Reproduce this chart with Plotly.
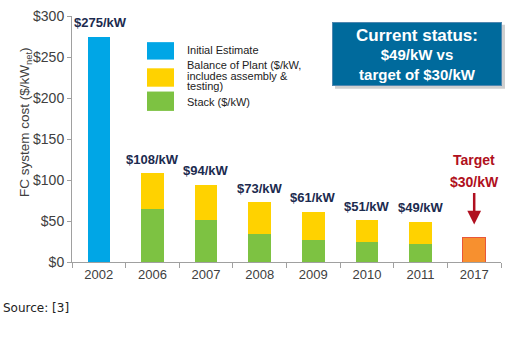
import plotly.graph_objects as go

years = ["2002", "2006", "2007", "2008", "2009", "2010", "2011", "2017"]
initial = [275, None, None, None, None, None, None, None]
stack = [None, 65, 51, 34, 27, 25, 22, None]
bop = [None, 43, 43, 39, 34, 26, 27, None]
target = [None, None, None, None, None, None, None, 30]
totals = [275, 108, 94, 73, 61, 51, 49, 30]
labels = ["$275/kW", "$108/kW", "$94/kW", "$73/kW", "$61/kW", "$51/kW", "$49/kW", ""]
yticks = [0, 50, 100, 150, 200, 250, 300]
yticktext = ["$0", "$50", "$100", "$150", "$200", "$250", "$300"]

C_BLUE, C_GREEN, C_YELLOW, C_ORANGE = "#00A6E6", "#7DC242", "#FFD200", "#F7902F"

# plot-area pixel frame (for layout helpers)
L, R, T, B = 72, 501, 8, 262
def px(p):
    return (p - L) / (R - L)
def py(p):
    return (B - p) / (B - T)

W = 0.42
fig = go.Figure()
fig.add_trace(go.Bar(x=years, y=initial, name="Initial Estimate", marker_color=C_BLUE,
                     marker_line_width=0, width=W))
fig.add_trace(go.Bar(x=years, y=stack, name="Stack ($/kW)", marker_color=C_GREEN,
                     marker_line_width=0, width=W))
fig.add_trace(go.Bar(x=years, y=bop, name="Balance of Plant", marker_color=C_YELLOW,
                     marker_line_width=0, width=W))
fig.add_trace(go.Bar(x=years, y=target, name="Target", marker_color=C_ORANGE,
                     marker_line=dict(color="#E8563A", width=1), width=W))

LF = dict(family="Liberation Sans, Arial", size=13, color="#1C2B4F")
RF = dict(family="Liberation Sans, Arial", size=14, color="#B01020")
for i, (tot, lab) in enumerate(zip(totals, labels)):
    if lab:
        fig.add_annotation(x=i, y=tot, text="<b>" + lab + "</b>", showarrow=False,
                           yshift=14, xshift=2 if i == 0 else 0, font=LF)

ti = years.index("2017")
fig.add_annotation(x=ti, y=target[ti], text="<b>Target</b>", showarrow=False, yshift=77, font=RF)
fig.add_annotation(x=ti, y=target[ti], text="<b>$30/kW</b>", showarrow=False, yshift=55, font=RF)
fig.add_annotation(x=ti, y=target[ti], ax=0, ay=-33, yshift=13, text="", showarrow=True,
                   arrowhead=2, arrowsize=1.1, arrowwidth=2.5, arrowcolor="#B01020")

# status box with shadow
fig.add_shape(type="rect", xref="paper", yref="paper", x0=px(335), x1=px(505), y0=py(83), y1=py(17),
              fillcolor="#CFCFCF", line_width=0, layer="below")
fig.add_annotation(xref="paper", yref="paper", x=px(417), y=py(47), xanchor="center", yanchor="middle",
                   showarrow=False,
                   text="<b><span style='font-size:17px'>Current status:</span><br>$49/kW vs<br>target of $30/kW</b>",
                   font=dict(family="Liberation Sans, Arial", size=15, color="white"), align="center",
                   width=168, height=62, bgcolor="#006A9C", bordercolor="#4F87B0", borderwidth=1,
                   borderpad=0, valign="middle")

# legend (drawn manually to match the large swatches)
leg = [
    (C_BLUE, 35, 53, ["Initial Estimate"], [43]),
    (C_YELLOW, 62, 81, ["Balance of Plant ($/kW,", "includes assembly &", "testing)"], [58.5, 69.5, 80.5]),
    (C_GREEN, 86, 106, ["Stack ($/kW)"], [97]),
]
for col, y0, y1, lines, ys in leg:
    fig.add_shape(type="rect", xref="paper", yref="paper", x0=px(147), x1=px(174),
                  y0=py(y1), y1=py(y0), fillcolor=col, line_width=0, layer="below")
    for t, yy in zip(lines, ys):
        fig.add_annotation(xref="paper", yref="paper", x=px(185), y=py(yy), xanchor="left",
                           yanchor="middle", text=t, showarrow=False,
                           font=dict(family="Liberation Sans, Arial", size=11, color="#222222"))

# y-axis title
fig.add_annotation(xref="paper", yref="paper", x=px(15), y=py(118), textangle=-90,
                   text="FC system cost ($/kW<sub>net</sub>)", showarrow=False,
                   font=dict(family="Liberation Sans, Arial", size=13.5, color="#404040"))

fig.add_annotation(xref="paper", yref="paper", x=px(1), y=py(310), xanchor="left", yanchor="middle",
                   text="Source: [3]", showarrow=False,
                   font=dict(family="DejaVu Sans", size=12, color="#222222"))

fig.update_layout(
    width=510, height=350, barmode="stack", bargap=0.58,
    margin=dict(l=L, r=510 - R, t=T, b=350 - B),
    plot_bgcolor="white", paper_bgcolor="white",
    font=dict(family="Liberation Sans, Arial", color="#404040"),
    showlegend=False,
)
fig.update_xaxes(type="category", range=[-0.5, len(years) - 0.5], showline=True,
                 linecolor="#A0A0A0", ticks="outside",
                 tickson="boundaries", ticklen=5, tickcolor="#A0A0A0",
                 tickfont=dict(size=13, color="#404040"))
fig.update_yaxes(range=[0, 300], tickvals=yticks, ticktext=yticktext, showgrid=False,
                 showline=True, linecolor="#A0A0A0", ticks="outside", ticklen=4, tickcolor="#A0A0A0",
                 tickfont=dict(size=14, color="#404040"), zeroline=False,
                 ticklabeloverflow="allow")

fig.write_html("out.html")
